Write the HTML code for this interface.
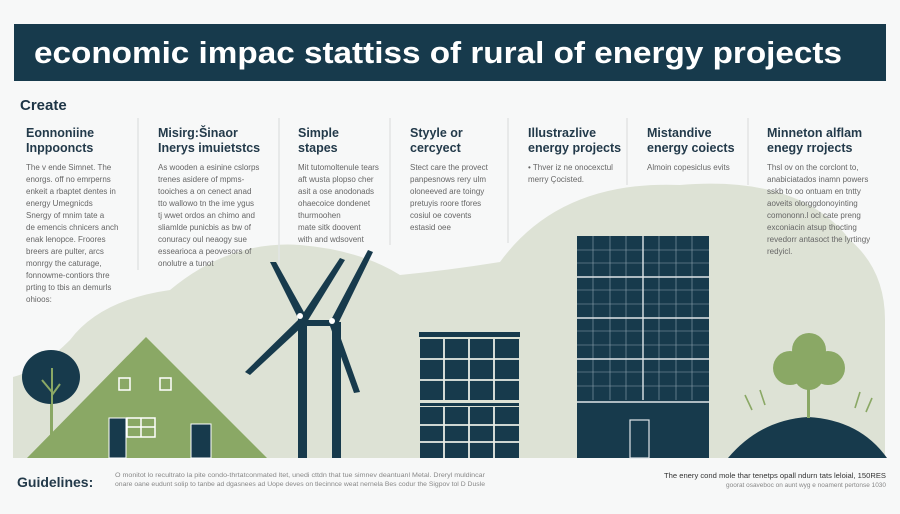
<!DOCTYPE html>
<html><head><meta charset="utf-8"><style>
body{margin:0;background:#f7f8f8;}
svg{display:block;font-family:"Liberation Sans",sans-serif;}
</style></head><body>
<svg width="900" height="514" viewBox="0 0 900 514" xmlns="http://www.w3.org/2000/svg">
<rect width="900" height="514" fill="#f7f8f8"/>
<rect x="14" y="24" width="872" height="57" fill="#173a4c"/>
<text x="34" y="63" font-size="31" font-weight="bold" fill="#fff" textLength="808" lengthAdjust="spacingAndGlyphs">economic impac stattiss of rural of energy projects</text>
<text x="20" y="110" font-size="15" font-weight="bold" fill="#1d3546">Create</text>
<!-- landscape -->
<path d="M13 458 L13 377 Q40 370 70 340 Q100 300 170 290 Q230 240 300 245 Q360 250 400 275 Q450 270 500 262 Q560 180 680 185 Q800 175 850 240 Q885 270 885 320 L885 458 Z" fill="#dde2d5"/>
<!-- dividers -->
<g stroke="#e2e4e4" stroke-width="1.5">
<line x1="138" y1="118" x2="138" y2="270"/><line x1="279" y1="118" x2="279" y2="268"/>
<line x1="390" y1="118" x2="390" y2="245"/><line x1="508" y1="118" x2="508" y2="243"/>
<line x1="627" y1="118" x2="627" y2="185"/><line x1="748" y1="118" x2="748" y2="185"/>
</g>
<g font-size="12.5" font-weight="bold" fill="#233a4a">
<text x="26" y="137">Eonnoniine</text><text x="26" y="152">Inppooncts</text>
<text x="158" y="137">Misirg:Šinaor</text><text x="158" y="152">Inerys imuietstcs</text>
<text x="298" y="137">Simple</text><text x="298" y="152">stapes</text>
<text x="410" y="137">Styyle or</text><text x="410" y="152">cercyect</text>
<text x="528" y="137">Illustrazlive</text><text x="528" y="152">energy projects</text>
<text x="647" y="137">Mistandive</text><text x="647" y="152">energy coiects</text>
<text x="767" y="137">Minneton alflam</text><text x="767" y="152">enegy rrojects</text>
</g>
<g font-size="8" fill="#666">
<text x="26" y="170">The v ende Simnet. The</text><text x="26" y="182">enorgs. off no emrperns</text><text x="26" y="194">enkeit a rbaptet dentes in</text><text x="26" y="206">energy Umegnicds</text><text x="26" y="218">Snergy of mnim tate a</text><text x="26" y="230">de emencis chnicers anch</text><text x="26" y="242">enak lenopce. Froores</text><text x="26" y="254">breers are pulter, arcs</text><text x="26" y="266">monrgy the caturage,</text><text x="26" y="278">fonnowme-contiors thre</text><text x="26" y="290">prting to tbis an demurls</text><text x="26" y="302">ohioos:</text>
<text x="158" y="170">As wooden a esinine cslorps</text><text x="158" y="182">trenes asidere of mpms-</text><text x="158" y="194">tooiches a on cenect anad</text><text x="158" y="206">tto wallowo tn the ime ygus</text><text x="158" y="218">tj wwet ordos an chimo and</text><text x="158" y="230">sliamlde punicbis as bw of</text><text x="158" y="242">conuracy oul neaogy sue</text><text x="158" y="254">essearioca a peovesors of</text><text x="158" y="266">onolutre a tunot</text>
<text x="298" y="170">Mit tutomoltenule tears</text><text x="298" y="182">aft wusta plopso cher</text><text x="298" y="194">asit a ose anodonads</text><text x="298" y="206">ohaecoice dondenet</text><text x="298" y="218">thurmoohen</text><text x="298" y="230">mate sitk doovent</text><text x="298" y="242">with and wdsovent</text>
<text x="410" y="170">Stect care the provect</text><text x="410" y="182">panpesnows rery ulm</text><text x="410" y="194">oloneeved are toingy</text><text x="410" y="206">pretuyis roore tfores</text><text x="410" y="218">cosiul oe covents</text><text x="410" y="230">estasid oee</text>
<text x="528" y="170">• Thver iz ne onocexctul</text><text x="528" y="182">  merry Çocisted.</text>
<text x="647" y="170">Almoin copesiclus evits</text>
<text x="767" y="170">Thsl ov on the corclont to,</text><text x="767" y="182">anabiciatados inamn powers</text><text x="767" y="194">sskb to oo ontuam en tntty</text><text x="767" y="206">aoveits olorggdonoyinting</text><text x="767" y="218">comononn.l ocl cate preng</text><text x="767" y="230">exconiacin atsup thocting</text><text x="767" y="242">revedorr antasoct the lyrtingy</text><text x="767" y="254">redyicl.</text>
</g>
<!-- left tree -->
<rect x="50" y="380" width="3" height="78" fill="#8aa865"/>
<ellipse cx="51" cy="377" rx="29" ry="27" fill="#173a4c"/>
<path d="M52 368 L52 440 M42 380 L52 392 M60 384 L52 395" stroke="#8aa865" stroke-width="2"/>
<!-- house -->
<path d="M146 337 L27 458 L267 458 Z" fill="#8aa865"/>
<rect x="119" y="378" width="11" height="12" fill="none" stroke="#fff" stroke-width="1.5"/>
<rect x="160" y="378" width="11" height="12" fill="none" stroke="#fff" stroke-width="1.5"/>
<rect x="109" y="418" width="17" height="40" fill="#173a4c" stroke="#fff" stroke-width="1"/>
<rect x="127" y="418" width="28" height="19" fill="none" stroke="#fff" stroke-width="1.5"/>
<line x1="141" y1="418" x2="141" y2="437" stroke="#fff" stroke-width="1.5"/><line x1="127" y1="427" x2="155" y2="427" stroke="#fff" stroke-width="1.5"/>
<rect x="191" y="424" width="20" height="34" fill="#173a4c" stroke="#fff" stroke-width="1"/>
<!-- wind turbine -->
<g fill="#173a4c">
<rect x="298" y="318" width="9" height="140"/><rect x="332" y="322" width="9" height="136"/>
<path d="M298 318 L270 262 L276 262 L305 314 Z"/>
<path d="M300 318 L340 258 L345 260 L307 322 Z"/>
<path d="M298 320 L245 372 L250 375 L304 325 Z"/>
<path d="M331 320 L368 250 L373 252 L338 324 Z"/>
<path d="M335 322 L360 392 L354 393 L330 326 Z"/>
<rect x="302" y="320" width="32" height="6"/>
</g>
<circle cx="300" cy="316" r="3" fill="#fff"/><circle cx="332" cy="321" r="3" fill="#fff"/>
<!-- middle building -->
<rect x="419" y="332" width="101" height="5" fill="#173a4c"/>
<rect x="420" y="339" width="99" height="61" fill="#173a4c"/>
<rect x="420" y="403" width="99" height="3" fill="#173a4c"/>
<rect x="420" y="407" width="99" height="51" fill="#173a4c"/>
<g stroke="#e9ece6" stroke-width="1.8">
<line x1="469" y1="339" x2="469" y2="400"/><line x1="444" y1="339" x2="444" y2="400"/><line x1="494" y1="339" x2="494" y2="400"/>
<line x1="420" y1="359" x2="519" y2="359"/><line x1="420" y1="380" x2="519" y2="380"/>
<line x1="469" y1="407" x2="469" y2="458"/><line x1="444" y1="407" x2="444" y2="458"/><line x1="494" y1="407" x2="494" y2="458"/>
<line x1="420" y1="425" x2="519" y2="425"/><line x1="420" y1="442" x2="519" y2="442"/>
</g>
<!-- solar tower -->
<rect x="577" y="236" width="132" height="222" fill="#173a4c"/>
<g stroke="#8fa3b0" stroke-width="0.6">
<line x1="593" y1="236" x2="593" y2="400"/><line x1="610" y1="236" x2="610" y2="400"/><line x1="626" y1="236" x2="626" y2="400"/><line x1="659" y1="236" x2="659" y2="400"/><line x1="676" y1="236" x2="676" y2="400"/><line x1="692" y1="236" x2="692" y2="400"/>
<line x1="577" y1="250" x2="709" y2="250"/><line x1="577" y1="263" x2="709" y2="263"/><line x1="577" y1="290" x2="709" y2="290"/><line x1="577" y1="304" x2="709" y2="304"/><line x1="577" y1="331" x2="709" y2="331"/><line x1="577" y1="345" x2="709" y2="345"/><line x1="577" y1="372" x2="709" y2="372"/><line x1="577" y1="386" x2="709" y2="386"/>
</g>
<g stroke="#dfe5e8" stroke-width="1.4">
<line x1="643" y1="236" x2="643" y2="400"/><line x1="577" y1="277" x2="709" y2="277"/><line x1="577" y1="318" x2="709" y2="318"/><line x1="577" y1="359" x2="709" y2="359"/>
<line x1="577" y1="402" x2="709" y2="402"/>
</g>
<rect x="630" y="420" width="19" height="38" fill="none" stroke="#dfe5e8" stroke-width="1.2"/>
<!-- right tree & hill -->
<path d="M728 458 Q760 420 808 417 Q860 420 887 458 Z" fill="#173a4c"/>
<rect x="807" y="370" width="3" height="48" fill="#8aa865"/>
<circle cx="809" cy="350" r="17" fill="#8aa865"/><circle cx="790" cy="368" r="17" fill="#8aa865"/><circle cx="828" cy="368" r="17" fill="#8aa865"/><circle cx="809" cy="375" r="15" fill="#8aa865"/>
<g stroke="#8aa865" stroke-width="1.6"><line x1="745" y1="395" x2="752" y2="410"/><line x1="760" y1="390" x2="765" y2="405"/><line x1="860" y1="392" x2="855" y2="408"/><line x1="872" y1="398" x2="866" y2="412"/></g>
<!-- footer -->
<text x="17" y="487" font-size="14" font-weight="bold" fill="#233a4a">Guidelines:</text>
<text x="115" y="477" font-size="6.5" fill="#888" textLength="370" lengthAdjust="spacingAndGlyphs">O monitot lo recultrato la pite condo-thrtatconmated ltet, unedi cttdn that tue simnev deantuanl Metal. Dreryl muldincar</text>
<text x="115" y="486" font-size="6.5" fill="#888" textLength="370" lengthAdjust="spacingAndGlyphs">onare oane eudunt solip to tanbe ad dgasnees ad Uope deves on tlecinnce weat nernela Bes codur the Sigpov tol D Dusle</text>
<text x="886" y="478" font-size="7.5" fill="#333" text-anchor="end" textLength="222" lengthAdjust="spacingAndGlyphs">The enery cond mole thar tenetps opall ndurn tats leloial, 150RES</text>
<text x="886" y="487" font-size="6.5" fill="#888" text-anchor="end" textLength="160" lengthAdjust="spacingAndGlyphs">goorat osaveboc on aunt wyg e noament pertonse 1030</text>
</svg>
</body></html>
